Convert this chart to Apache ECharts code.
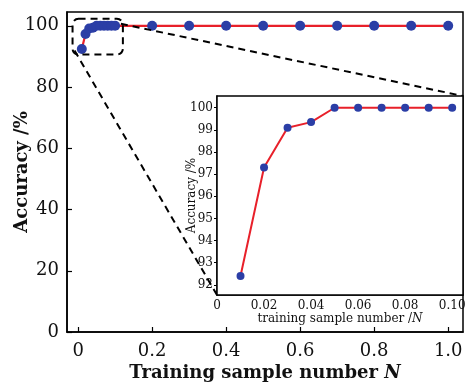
<!DOCTYPE html>
<html>
<head>
<meta charset="utf-8">
<script src="https://cdn.jsdelivr.net/npm/echarts@6/dist/echarts.min.js"></script>
<style>
  html, body { margin: 0; padding: 0; background: #fff; }
  #chart { width: 465px; height: 383px; }
</style>
</head>
<body>
<div id="chart"></div>
<script>
// Training-set size vs. classification accuracy
const sampleN = [0.01, 0.02, 0.03, 0.04, 0.05, 0.06, 0.07, 0.08, 0.09, 0.10,
                 0.2, 0.3, 0.4, 0.5, 0.6, 0.7, 0.8, 0.9, 1.0];
const accuracy = [92.4, 97.3, 99.1, 99.35, 100, 100, 100, 100, 100, 100,
                  100, 100, 100, 100, 100, 100, 100, 100, 100];

// Zoomed range shown in the inset
const insetN = [0.01, 0.02, 0.03, 0.04, 0.05, 0.06, 0.07, 0.08, 0.09, 0.10];
const insetAcc = [92.4, 97.3, 99.1, 99.35, 100, 100, 100, 100, 100, 100];

const mainXTicks = [0, 0.2, 0.4, 0.6, 0.8, 1.0];
const mainYTicks = [0, 20, 40, 60, 80, 100];
const insetXTicks = [0, 0.02, 0.04, 0.06, 0.08, 0.10];
const insetXMinor = [0.01, 0.02, 0.03, 0.04, 0.05, 0.06, 0.07, 0.08, 0.09, 0.10];
const insetYTicks = [92, 93, 94, 95, 96, 97, 98, 99, 100];

// Region of the main plot that the inset magnifies
const zoomBox = { x0: -0.015, x1: 0.121, y0: 90.6, y1: 102.3 };

const FONT = 'DejaVu Serif';
const RED = '#e8202a';
const BLUE = '#2b3ea6';

const chart = echarts.init(document.getElementById('chart'), null, { renderer: 'canvas' });

const mainGrid = { left: 67, top: 12, right: 2, bottom: 51 };
const insetGrid = { left: 217, top: 96, right: 2, bottom: 88 };

const gridBase = { show: true, borderColor: '#000', borderWidth: 1.5, containLabel: false, outerBoundsMode: 'none' };

const option = {
  animation: false,
  backgroundColor: '#fff',
  grid: [
    Object.assign({}, gridBase, { backgroundColor: 'transparent' }, mainGrid),
    Object.assign({}, gridBase, { backgroundColor: '#fff', z: 5 }, insetGrid)
  ],
  xAxis: [
    {
      gridIndex: 0, type: 'value', min: -0.03, max: 1.04,
      splitLine: { show: false },
      axisLine: { show: true, onZero: false, lineStyle: { color: '#000', width: 1.5 } },
      axisTick: { show: true, inside: true, length: 5, customValues: mainXTicks, lineStyle: { color: '#000', width: 1.2 } },
      axisLabel: { customValues: mainXTicks, margin: 10, color: '#111', fontFamily: FONT, fontSize: 18,
        formatter: v => v === 0 ? '0' : v.toFixed(1) },
      name: '{t|Training sample number }{i|N}',
      nameLocation: 'middle', nameGap: 32, nameMoveOverlap: false,
      nameTextStyle: {
        rich: {
          t: { fontFamily: FONT, fontSize: 18, fontWeight: 'bold', color: '#111' },
          i: { fontFamily: FONT, fontSize: 18, fontWeight: 'bold', fontStyle: 'italic', color: '#111' }
        }
      }
    },
    {
      gridIndex: 1, type: 'value', min: 0, max: 0.1046,
      splitLine: { show: false },
      axisLine: { show: true, onZero: false, lineStyle: { color: '#000', width: 1.5 } },
      axisTick: { show: true, inside: true, length: 3, customValues: insetXMinor, lineStyle: { color: '#000', width: 1 } },
      axisLabel: { customValues: insetXTicks, margin: 5, color: '#111', fontFamily: FONT, fontSize: 12,
        formatter: v => v === 0 ? '0' : v.toFixed(2) },
      name: '{t|training sample number /}{i|N}',
      nameLocation: 'middle', nameGap: 18, nameMoveOverlap: false,
      nameTextStyle: {
        rich: {
          t: { fontFamily: FONT, fontSize: 12, color: '#111' },
          i: { fontFamily: FONT, fontSize: 12, fontStyle: 'italic', color: '#111' }
        }
      }
    }
  ],
  yAxis: [
    {
      gridIndex: 0, type: 'value', min: 0, max: 104.5,
      splitLine: { show: false },
      axisLine: { show: true, onZero: false, lineStyle: { color: '#000', width: 1.5 } },
      axisTick: { show: true, inside: true, length: 5, customValues: mainYTicks, lineStyle: { color: '#000', width: 1.2 } },
      axisLabel: { customValues: mainYTicks, margin: 8, color: '#111', fontFamily: FONT, fontSize: 18 },
      name: 'Accuracy /%',
      nameLocation: 'middle', nameGap: 36, nameMoveOverlap: false,
      nameTextStyle: { fontFamily: FONT, fontSize: 18, fontWeight: 'bold', color: '#111' }
    },
    {
      gridIndex: 1, type: 'value', min: 91.54, max: 100.53,
      splitLine: { show: false },
      axisLine: { show: true, onZero: false, lineStyle: { color: '#000', width: 1.5 } },
      axisTick: { show: true, inside: false, length: 3, customValues: insetYTicks, lineStyle: { color: '#000', width: 1 } },
      axisLabel: { customValues: insetYTicks, margin: 4, color: '#111', fontFamily: FONT, fontSize: 12 },
      name: 'Accuracy /%',
      nameLocation: 'middle', nameGap: 19, nameMoveOverlap: false,
      nameTextStyle: { fontFamily: FONT, fontSize: 12, color: '#111' }
    }
  ],
  series: [
    {
      type: 'line', xAxisIndex: 0, yAxisIndex: 0,
      data: sampleN.map((x, i) => [x, accuracy[i]]),
      symbol: 'circle', symbolSize: 10,
      lineStyle: { color: RED, width: 2.2 },
      itemStyle: { color: BLUE },
      z: 3
    },
    {
      type: 'line', xAxisIndex: 1, yAxisIndex: 1,
      data: insetN.map((x, i) => [x, insetAcc[i]]),
      symbol: 'circle', symbolSize: 8,
      lineStyle: { color: RED, width: 2 },
      itemStyle: { color: BLUE },
      z: 10
    }
  ]
};

chart.setOption(option);

// Dashed zoom box and connector lines, placed from axis coordinates
const tl = chart.convertToPixel({ gridIndex: 0 }, [zoomBox.x0, zoomBox.y1]);
const br = chart.convertToPixel({ gridIndex: 0 }, [zoomBox.x1, zoomBox.y0]);
const W = chart.getWidth(), H = chart.getHeight();
const insetTR = [W - insetGrid.right, insetGrid.top];
const insetBL = [insetGrid.left, H - insetGrid.bottom];
const dash = { stroke: '#000', lineWidth: 2, lineDash: [7, 5], fill: null };

chart.setOption({
  graphic: [
    { type: 'rect', z: 4, shape: { x: tl[0], y: tl[1], width: br[0] - tl[0], height: br[1] - tl[1], r: 6 }, style: dash },
    { type: 'line', z: 4, shape: { x1: br[0] - 2, y1: tl[1] + 5, x2: insetTR[0], y2: insetTR[1] }, style: dash },
    { type: 'line', z: 4, shape: { x1: tl[0] + 2, y1: br[1] - 4, x2: insetBL[0], y2: insetBL[1] }, style: dash }
  ]
});
</script>
</body>
</html>
